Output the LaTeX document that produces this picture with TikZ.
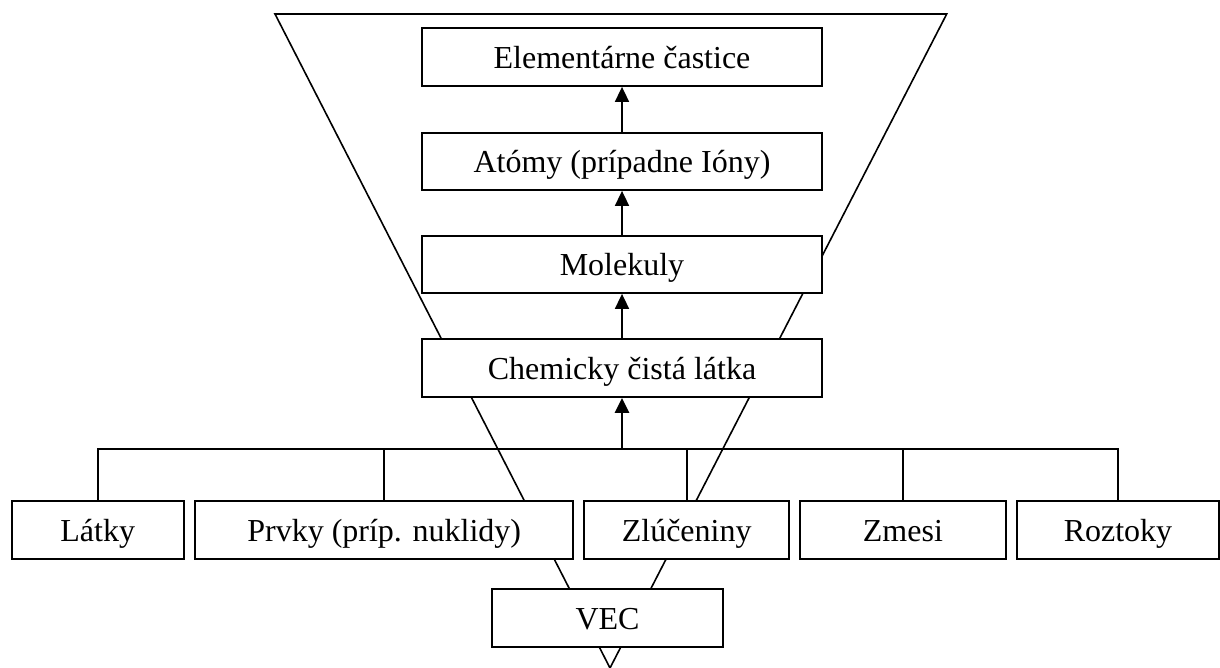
\documentclass[tikz,border=0pt]{standalone}
\usepackage{fontspec}
\setmainfont{Liberation Serif}
\usetikzlibrary{arrows.meta}
\begin{document}
\begin{tikzpicture}[x=1pt,y=-1pt,
  box/.style={draw,line width=1.8pt,fill=white,inner sep=0pt,minimum height=58pt,
    text height=29pt,text depth=6.4pt,
    font=\fontsize{32}{38}\selectfont},
  funnel/.style={line width=1.6pt,line join=miter},
  link/.style={line width=1.7pt},
  arr/.style={line width=1.7pt,-{Triangle[length=15pt,width=14pt]}},
  barr/.style={line width=2.6pt,-{Triangle[length=15pt,width=14pt]}}]
\useasboundingbox (0,0) rectangle (1220,668);
% funnel
\coordinate (ftl) at (275,14);
\coordinate (ftr) at (946.7,14);
\coordinate (fap) at (610,668);
\draw[funnel] (fap) -- (ftl) -- (ftr) -- cycle;
% boxes
\node[box,minimum width=400pt] (elem) at (622,57) {Elementárne častice};
\node[box,minimum width=400pt,minimum height=57pt] (atomy) at (622,161.5) {Atómy (prípadne Ióny)};
\node[box,minimum width=400pt,minimum height=57pt] (molek) at (622,264.5) {Molekuly};
\node[box,minimum width=400pt] (chem) at (622,368) {Chemicky čistá látka};
\node[box,minimum width=172pt] (latky) at (97.7,530) {Látky};
\node[box,minimum width=378.3pt] (prvky) at (384.2,530) {Prvky (príp. nuklidy)};
\node[box,minimum width=205.3pt] (zluc) at (686.7,530) {Zlúčeniny};
\node[box,minimum width=205.7pt] (zmesi) at (902.9,530) {Zmesi};
\node[box,minimum width=202pt] (roztoky) at (1118,530) {Roztoky};
\node[box,minimum width=231.6pt] (vec) at (607.5,618.3) {VEC};
% connectors
\coordinate (bus) at (622,449.3);
\draw[link] (latky.north) -- (latky.north |- bus) -- (roztoky.north |- bus) -- (roztoky.north);
\draw[link] (prvky.north) -- (prvky.north |- bus);
\draw[link] (zluc.north) -- (zluc.north |- bus);
\draw[link] (zmesi.north) -- (zmesi.north |- bus);
\draw[barr] (bus) -- (chem.south);
\draw[arr] (chem.north) -- (molek.south);
\draw[arr] (molek.north) -- (atomy.south);
\draw[arr] (atomy.north) -- (elem.south);
\end{tikzpicture}
\end{document}
